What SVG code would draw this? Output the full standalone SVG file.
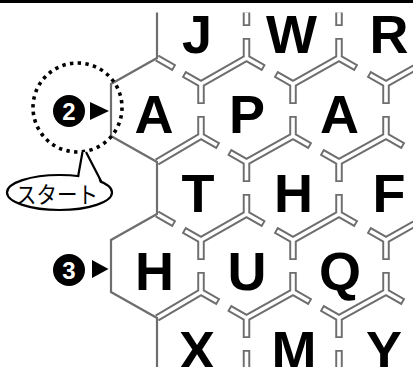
<svg xmlns="http://www.w3.org/2000/svg" width="413" height="367" viewBox="0 0 413 367">
<style>
.tg{fill:none;stroke:#6e6e6e;stroke-width:7.5;stroke-linejoin:miter;stroke-linecap:butt}
.tw{fill:none;stroke:#fff;stroke-width:3.6;stroke-linejoin:miter;stroke-linecap:butt}
.bd{fill:none;stroke:#6e6e6e;stroke-width:2.2;stroke-linejoin:miter}
.lt{font-family:"Liberation Sans",Arial,sans-serif;font-weight:bold;font-size:54px;fill:#000;text-anchor:middle}
.num{font-family:"Liberation Sans",Arial,sans-serif;font-weight:bold;font-size:24px;fill:#fff;text-anchor:middle}
</style>
<defs><clipPath id="clip"><rect x="0" y="12.5" width="413" height="360"/></clipPath></defs>
<rect x="0" y="0" width="413" height="367" fill="#fff"/>
<g id="connectors" clip-path="url(#clip)">
<path class="tg" d="
M246.5 38L246.5 58L201 84M201 84L246.5 58L263.9 67.9M263.9 67.9L246.5 58L246.5 38
M339 38L339 58L293 84M293 84L339 58L356.4 67.9M356.4 67.9L339 58L339 38
M432 38L432 58L386 84M386 84L432 58L449.4 67.9M449.4 67.9L432 58L432 38
M201 116L201 136L157 162M157 162L201 136L218.4 145.9M218.4 145.9L201 136L201 116
M293 116L293 136L246.5 162M246.5 162L293 136L310.4 145.9M310.4 145.9L293 136L293 116
M386 116L386 136L339 162M339 162L386 136L403.4 145.9M403.4 145.9L386 136L386 116
M246.5 194L246.5 214L201 240M201 240L246.5 214L263.9 223.9M263.9 223.9L246.5 214L246.5 194
M339 194L339 214L293 240M293 240L339 214L356.4 223.9M356.4 223.9L339 214L339 194
M432 194L432 214L386 240M386 240L432 214L449.4 223.9M449.4 223.9L432 214L432 194
M201 272L201 292L157 318M157 318L201 292L218.4 301.9M218.4 301.9L201 292L201 272
M293 272L293 292L246.5 318M246.5 318L293 292L310.4 301.9M310.4 301.9L293 292L293 272
M386 272L386 292L339 318M339 318L386 292L403.4 301.9M403.4 301.9L386 292L386 272
M183.6 74.1L201 84L246.5 58M246.5 58L201 84L201 104M201 104L201 84L183.6 74.1
M275.6 74.1L293 84L339 58M339 58L293 84L293 104M293 104L293 84L275.6 74.1
M368.6 74.1L386 84L432 58M432 58L386 84L386 104M386 104L386 84L368.6 74.1
M229.1 152.1L246.5 162L293 136M293 136L246.5 162L246.5 182M246.5 182L246.5 162L229.1 152.1
M321.6 152.1L339 162L386 136M386 136L339 162L339 182M339 182L339 162L321.6 152.1
M414.6 152.1L432 162L478 136M478 136L432 162L432 182M432 182L432 162L414.6 152.1
M183.6 230.1L201 240L246.5 214M246.5 214L201 240L201 260M201 260L201 240L183.6 230.1
M275.6 230.1L293 240L339 214M339 214L293 240L293 260M293 260L293 240L275.6 230.1
M368.6 230.1L386 240L432 214M432 214L386 240L386 260M386 260L386 240L368.6 230.1
M229.1 308.1L246.5 318L293 292M293 292L246.5 318L246.5 338M246.5 338L246.5 318L229.1 308.1
M321.6 308.1L339 318L386 292M386 292L339 318L339 338M339 338L339 318L321.6 308.1
M414.6 308.1L432 318L478 292M478 292L432 318L432 338M432 338L432 318L414.6 308.1
M246.5 0L246.5 26M339 0L339 26M246.5 350L246.5 380M339 350L339 380
M157 58L174.4 67.9M157 214L174.4 223.9"/>
<path class="tw" d="
M246.5 39.8L246.5 58L201 84M201 84L246.5 58L262.3 67M262.3 67L246.5 58L246.5 39.8
M339 39.8L339 58L293 84M293 84L339 58L354.8 67M354.8 67L339 58L339 39.8
M432 39.8L432 58L386 84M386 84L432 58L447.8 67M447.8 67L432 58L432 39.8
M201 117.8L201 136L157 162M157 162L201 136L216.8 145M216.8 145L201 136L201 117.8
M293 117.8L293 136L246.5 162M246.5 162L293 136L308.8 145M308.8 145L293 136L293 117.8
M386 117.8L386 136L339 162M339 162L386 136L401.8 145M401.8 145L386 136L386 117.8
M246.5 195.8L246.5 214L201 240M201 240L246.5 214L262.3 223M262.3 223L246.5 214L246.5 195.8
M339 195.8L339 214L293 240M293 240L339 214L354.8 223M354.8 223L339 214L339 195.8
M432 195.8L432 214L386 240M386 240L432 214L447.8 223M447.8 223L432 214L432 195.8
M201 273.8L201 292L157 318M157 318L201 292L216.8 301M216.8 301L201 292L201 273.8
M293 273.8L293 292L246.5 318M246.5 318L293 292L308.8 301M308.8 301L293 292L293 273.8
M386 273.8L386 292L339 318M339 318L386 292L401.8 301M401.8 301L386 292L386 273.8
M185.2 75L201 84L246.5 58M246.5 58L201 84L201 102.2M201 102.2L201 84L185.2 75
M277.2 75L293 84L339 58M339 58L293 84L293 102.2M293 102.2L293 84L277.2 75
M370.2 75L386 84L432 58M432 58L386 84L386 102.2M386 102.2L386 84L370.2 75
M230.7 153L246.5 162L293 136M293 136L246.5 162L246.5 180.2M246.5 180.2L246.5 162L230.7 153
M323.2 153L339 162L386 136M386 136L339 162L339 180.2M339 180.2L339 162L323.2 153
M416.2 153L432 162L478 136M478 136L432 162L432 180.2M432 180.2L432 162L416.2 153
M185.2 231L201 240L246.5 214M246.5 214L201 240L201 258.2M201 258.2L201 240L185.2 231
M277.2 231L293 240L339 214M339 214L293 240L293 258.2M293 258.2L293 240L277.2 231
M370.2 231L386 240L432 214M432 214L386 240L386 258.2M386 258.2L386 240L370.2 231
M230.7 309L246.5 318L293 292M293 292L246.5 318L246.5 336.2M246.5 336.2L246.5 318L230.7 309
M323.2 309L339 318L386 292M386 292L339 318L339 336.2M339 336.2L339 318L323.2 309
M416.2 309L432 318L478 292M478 292L432 318L432 336.2M432 336.2L432 318L416.2 309
M246.5 0L246.5 24.2M339 0L339 24.2M246.5 351.8L246.5 380M339 351.8L339 380
M157 58L172.8 67M157 214L172.8 223"/>
<path class="bd" d="M157 10L157 58L111 84L111 136L157 162L157 214L111 240L111 292L157 318L157 370"/>
</g>
<rect x="0" y="0" width="413" height="3" fill="#000"/>
<g id="node-J"><text class="lt" x="197" y="53">J</text></g>
<g id="node-W"><text class="lt" x="291.5" y="53">W</text></g>
<g id="node-R"><text class="lt" x="389" y="53">R</text></g>
<g id="node-A1"><text class="lt" x="154" y="132.5">A</text></g>
<g id="node-P"><text class="lt" x="247" y="132.5">P</text></g>
<g id="node-A2"><text class="lt" x="339.5" y="132.5">A</text></g>
<g id="node-T"><text class="lt" x="198" y="211.5">T</text></g>
<g id="node-H1"><text class="lt" x="293.5" y="211.5">H</text></g>
<g id="node-F"><text class="lt" x="389" y="211.5">F</text></g>
<g id="node-H2"><text class="lt" x="154.5" y="290">H</text></g>
<g id="node-U"><text class="lt" x="247" y="290">U</text></g>
<g id="node-Q"><text class="lt" x="340" y="290">Q</text></g>
<g id="node-X"><text class="lt" x="197" y="369">X</text></g>
<g id="node-M"><text class="lt" x="294" y="369">M</text></g>
<g id="node-Y"><text class="lt" x="384" y="369">Y</text></g>
<g id="start-circle">
<circle cx="77.5" cy="107.5" r="44.5" fill="none" stroke="#000" stroke-width="3.6" stroke-dasharray="3.4 4.36"/>
</g>
<g id="marker-2">
<circle cx="69" cy="111" r="16" fill="#000"/>
<text class="num" x="69" y="119.5">2</text>
<polygon points="90,102 90,120 109,111" fill="#000"/>
</g>
<g id="marker-3">
<circle cx="69" cy="270" r="16" fill="#000"/>
<text class="num" x="69" y="278.5">3</text>
<polygon points="92,260 92,278 108.5,269" fill="#000"/>
</g>
<g id="start-bubble">
<ellipse cx="59.5" cy="192.5" rx="52.5" ry="17.5" fill="#fff" stroke="#000" stroke-width="2.2"/>
<polygon points="78.5,181 82.5,152 86,152 101,185" fill="#fff"/>
<path d="M78 177L82.5 152M86 152L101.5 182" fill="none" stroke="#000" stroke-width="2.2"/>
<text x="16" y="203" font-family="'Noto Sans CJK JP',sans-serif" font-size="23" textLength="82" lengthAdjust="spacingAndGlyphs" fill="#000">スタート</text>
</g>
</svg>
